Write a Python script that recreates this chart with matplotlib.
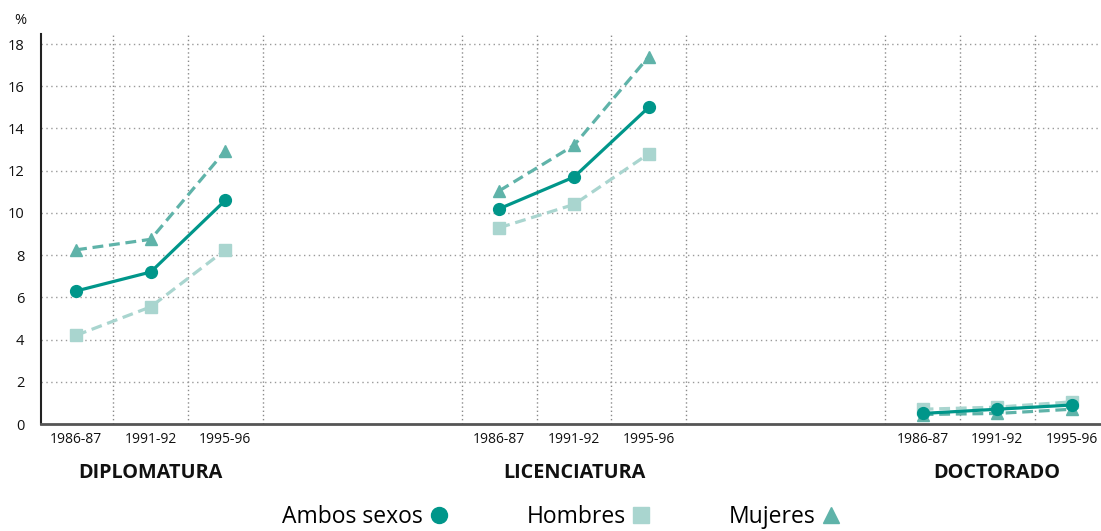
import matplotlib
matplotlib.use("Agg")
import matplotlib.pyplot as plt
from matplotlib.lines import Line2D

plt.rcParams['font.family'] = ['Open Sans', 'DejaVu Sans']

groups = ["DIPLOMATURA", "LICENCIATURA", "DOCTORADO"]
periods = ["1986-87", "1991-92", "1995-96"]

ambos = [[6.3, 7.2, 10.6], [10.2, 11.7, 15.0], [0.5, 0.7, 0.9]]
hombres = [[4.2, 5.55, 8.25], [9.3, 10.4, 12.8], [0.7, 0.8, 1.05]]
mujeres = [[8.25, 8.75, 12.95], [11.05, 13.2, 17.4], [0.45, 0.5, 0.7]]

c_ambos = "#00968a"
c_hom = "#a9d5cf"
c_muj = "#5fb3a9"

group_step = 5.67

fig = plt.figure(figsize=(11.01, 5.31), dpi=100)
ax = fig.add_axes([41/1101, 107/531, 1 - 41/1101, (424-33.5)/531])

ax.set_xlim(-0.47, 13.73)
ax.set_ylim(0, 18.5)

for g in range(3):
    base = g * group_step
    for b in (-0.5, 0.5, 1.5, 2.5):
        xv = base + b
        if -0.45 < xv < 13.7:
            ax.axvline(xv, color="#8a8a8a", lw=1.0, ls=(0, (1, 2)), zorder=0)
for yv in range(2, 19, 2):
    ax.axhline(yv, color="#9a9a9a", lw=1.0, ls=(0, (1, 2.5)), zorder=0)

for g in range(3):
    xs = [g * group_step + i for i in range(3)]
    ax.plot(xs, hombres[g], color=c_hom, lw=2.3, ls=(0, (3.4, 1.8)),
            marker="s", ms=9, mec=c_hom, mfc=c_hom, zorder=3)
    ax.plot(xs, mujeres[g], color=c_muj, lw=2.3, ls=(0, (3.4, 1.8)),
            marker="^", ms=9, mec=c_muj, mfc=c_muj, zorder=4)
    ax.plot(xs, ambos[g], color=c_ambos, lw=2.3, ls="-",
            marker="o", ms=8.5, mec=c_ambos, mfc=c_ambos, zorder=5)

xt = [g * group_step + i for g in range(3) for i in range(3)]
ax.set_xticks(xt)
ax.set_xticklabels(periods * 3, fontsize=10, color="#111111")
ax.tick_params(axis="x", length=0, pad=6)

ax.set_yticks(range(0, 19, 2))
ax.set_yticklabels([str(v) for v in range(0, 19, 2)], fontsize=10.5, color="#111111")
ax.tick_params(axis="y", length=0, pad=12)

for s in ("top", "right"):
    ax.spines[s].set_visible(False)
ax.spines["left"].set_color("#222222")
ax.spines["left"].set_linewidth(1.5)
ax.spines["bottom"].set_color("#555555")
ax.spines["bottom"].set_linewidth(2.0)

for g, name in enumerate(groups):
    ax.text(g * group_step + 1, -2.3, name, ha="center", va="center",
            fontsize=14.3, fontweight="bold", color="#111111")

fig.text(20/1101, 1 - 20/531, "%", ha="center", va="center", fontsize=10.5, color="#111111")

handles = [
    Line2D([], [], ls="none", marker="o", ms=11.5, color=c_ambos),
    Line2D([], [], ls="none", marker="s", ms=11.5, color=c_hom),
    Line2D([], [], ls="none", marker="^", ms=11.5, color=c_muj),
]
fig.legend(handles, ["Ambos sexos", "Hombres", "Mujeres"], ncol=3, frameon=False,
           markerfirst=False, loc="center", bbox_to_anchor=(0.511, 0.027),
           fontsize=16.5, handletextpad=0.2, columnspacing=3.3, handlelength=1.0)

fig.savefig("out.png", dpi=100)
